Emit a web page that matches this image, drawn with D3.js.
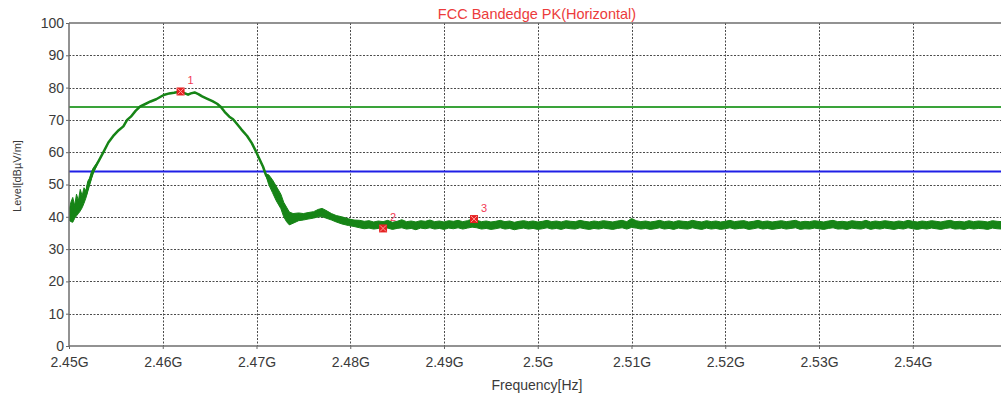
<!DOCTYPE html>
<html>
<head>
<meta charset="utf-8">
<script src="https://cdn.jsdelivr.net/npm/d3@7"></script>
<style>
  body { margin: 0; background: #fff; }
  svg { display: block; }
</style>
</head>
<body>
<svg id="chart" width="1001" height="397"></svg>
<script>
// Axis ticks
const xTickMHz = [2450, 2460, 2470, 2480, 2490, 2500, 2510, 2520, 2530, 2540];
const xTickLabels = ["2.45G", "2.46G", "2.47G", "2.48G", "2.49G", "2.5G", "2.51G", "2.52G", "2.53G", "2.54G"];
const yTicks = [0, 10, 20, 30, 40, 50, 60, 70, 80, 90, 100];

// Limit lines (dBµV/m)
const peakLimit = 74;
const avgLimit = 54;

// Trace around the carrier: frequency (MHz), upper and lower envelope (dBµV/m)
const shapeMHz = [2450.0, 2450.2, 2450.4, 2450.6, 2450.8, 2451.0, 2451.2, 2451.4, 2451.6, 2451.8,
  2452.0, 2452.2, 2452.4, 2452.6, 2453.2, 2453.7, 2454.2, 2454.8, 2455.3, 2455.8,
  2456.2, 2456.6, 2457.1, 2457.6, 2458.2, 2458.7, 2459.3, 2460.1, 2460.7, 2461.2,
  2461.9, 2462.3, 2462.7, 2463.0, 2463.4, 2463.8, 2464.2, 2464.7, 2465.3, 2465.8,
  2466.2, 2466.6, 2467.1, 2467.5, 2467.9, 2468.4, 2469.0, 2469.5, 2469.9, 2470.2,
  2470.7, 2471.0, 2471.3, 2471.7, 2472.1, 2472.6, 2472.9, 2473.2, 2473.5, 2473.9,
  2474.5, 2475.0, 2475.5, 2476.1, 2476.6, 2477.0, 2477.4, 2478.0, 2478.5, 2479.1,
  2479.8, 2480.4];
const shapeHi = [42.0, 44.5, 46.0, 43.5, 47.0, 45.0, 48.5, 46.5, 49.0, 48.0,
  51.0, 52.0, 54.0, 55.2, 57.5, 60.2, 63.0, 65.3, 66.8, 68.0,
  70.0, 71.0, 72.8, 74.2, 75.0, 75.7, 76.4, 77.7, 78.2, 78.4,
  78.8, 78.3, 77.8, 78.2, 78.5, 78.0, 77.3, 76.6, 75.8, 75.0,
  74.0, 72.5, 71.0, 70.2, 68.8, 67.0, 65.0, 62.8, 60.5, 58.6,
  55.5, 53.2, 53.0, 51.5, 49.5, 47.0, 44.5, 43.0, 41.5, 41.0,
  41.2, 41.0, 41.3, 41.6, 42.3, 42.6, 42.0, 41.0, 40.4, 40.0,
  39.4, 39.0];
const shapeLo = [39.0, 38.5, 38.3, 39.5, 40.3, 41.0, 41.8, 42.8, 44.2, 45.8,
  47.8, 49.8, 51.8, 53.5, 57.5, 60.2, 63.0, 65.3, 66.8, 68.0,
  70.0, 71.0, 72.8, 74.2, 75.0, 75.7, 76.4, 77.7, 78.2, 78.4,
  78.8, 78.3, 77.8, 78.2, 78.5, 78.0, 77.3, 76.6, 75.8, 75.0,
  74.0, 72.5, 71.0, 70.2, 68.8, 67.0, 65.0, 62.8, 60.5, 58.6,
  55.5, 52.8, 50.0, 47.5, 45.0, 42.5, 40.0, 38.5, 37.5, 38.0,
  38.8, 39.0, 39.3, 39.6, 40.0, 40.0, 39.6, 39.0, 38.4, 37.8,
  37.3, 37.0];

// Noise floor sweep: 0.5 MHz bins from 2481 MHz, upper and lower envelope
const floorStartMHz = 2481;
const floorStepMHz = 0.5;
const floorHi = [38.9, 38.6, 38.8, 38.4, 38.7, 38.5, 38.9, 38.3, 38.6, 39.1,
  38.5, 38.7, 38.4, 38.8, 38.6, 39.0, 38.5, 38.7, 38.4, 38.8,
  38.6, 38.9, 38.5, 38.8, 39.3, 38.9, 38.5, 38.7, 38.4, 38.6,
  38.9, 38.5, 38.7, 38.3, 38.6, 38.8, 38.5, 38.7, 38.4, 38.6,
  38.9, 38.5, 38.7, 38.4, 38.8, 38.6, 38.5, 38.9, 38.6, 38.4,
  38.7, 38.5, 38.8, 38.6, 38.4, 38.7, 38.9, 38.5, 39.5, 38.8,
  38.5, 38.7, 38.4, 38.6, 38.9, 38.5, 38.7, 38.4, 38.8, 38.6,
  38.5, 38.9, 38.6, 38.4, 38.8, 38.5, 38.7, 38.4, 38.6, 38.9,
  38.5, 38.7, 38.8, 38.4, 38.6, 38.9, 38.5, 38.7, 38.4, 38.6,
  38.8, 38.5, 38.7, 38.9, 38.4, 38.6, 38.5, 38.8, 38.6, 38.4,
  38.7, 38.9, 38.5, 38.6, 38.4, 38.8, 38.6, 38.5, 38.9, 38.4,
  38.7, 38.5, 38.8, 38.6, 38.4, 38.7, 38.5, 38.9, 38.6, 38.4,
  38.7, 38.5, 38.8, 38.6, 38.4, 38.7, 38.9, 38.5, 38.6, 38.4,
  38.8, 38.5, 38.7, 38.6, 38.4, 38.8, 38.6, 38.5, 38.7];
const floorLo = [36.6, 36.3, 36.5, 36.2, 36.4, 36.2, 36.5, 36.1, 36.4, 36.6,
  36.2, 36.4, 36.0, 36.5, 36.3, 36.6, 36.2, 36.4, 36.1, 36.5,
  36.3, 36.6, 36.2, 36.5, 36.8, 36.6, 36.2, 36.4, 36.1, 36.3,
  36.6, 36.2, 36.4, 36.0, 36.3, 36.5, 36.2, 36.4, 36.1, 36.3,
  36.6, 36.2, 36.4, 36.1, 36.5, 36.3, 36.2, 36.6, 36.3, 36.1,
  36.4, 36.2, 36.5, 36.3, 36.1, 36.4, 36.6, 36.2, 36.7, 36.5,
  36.2, 36.4, 36.1, 36.3, 36.6, 36.2, 36.4, 36.1, 36.5, 36.3,
  36.2, 36.6, 36.3, 36.1, 36.5, 36.2, 36.4, 36.1, 36.3, 36.6,
  36.2, 36.4, 36.5, 36.1, 36.3, 36.6, 36.2, 36.4, 36.1, 36.3,
  36.5, 36.2, 36.4, 36.6, 36.1, 36.3, 36.2, 36.5, 36.3, 36.1,
  36.4, 36.6, 36.2, 36.3, 36.1, 36.5, 36.3, 36.2, 36.6, 36.1,
  36.4, 36.2, 36.5, 36.3, 36.1, 36.4, 36.2, 36.6, 36.3, 36.1,
  36.4, 36.2, 36.5, 36.3, 36.1, 36.4, 36.6, 36.2, 36.3, 36.1,
  36.5, 36.2, 36.4, 36.3, 36.1, 36.5, 36.3, 36.2, 36.4];

// Markers
const markerMHz = [2461.9, 2483.5, 2493.2];
const markerLevel = [78.8, 36.4, 39.3];
const markerNames = ["1", "2", "3"];

const W = 1001, H = 397;
const svg = d3.select("#chart");
const font = "'Liberation Sans', Arial, sans-serif";

const x = d3.scaleLinear().domain([2450, 2550]).range([69, 1006.5]);
const y = d3.scaleLinear().domain([0, 100]).range([346, 23]);

// Combined trace records
const trace = shapeMHz.map((f, i) => ({ f, hi: shapeHi[i], lo: shapeLo[i] }))
  .concat(floorHi.map((h, i) => ({ f: floorStartMHz + i * floorStepMHz, hi: h, lo: floorLo[i] })));

// Plot clip
svg.append("defs").append("clipPath").attr("id", "plot")
  .append("rect").attr("x", x(2450)).attr("y", y(100)).attr("width", W - x(2450)).attr("height", y(0) - y(100));

// Dotted grid
const grid = svg.append("g").attr("stroke", "#4a4a4a").attr("stroke-width", 1).attr("stroke-dasharray", "2,1.5");
grid.selectAll("line.v").data(xTickMHz.slice(1)).join("line").attr("class", "v")
  .attr("x1", d => Math.round(x(d)) + 0.5).attr("x2", d => Math.round(x(d)) + 0.5)
  .attr("y1", y(100)).attr("y2", y(0));
grid.selectAll("line.h").data(yTicks.slice(1, -1)).join("line").attr("class", "h")
  .attr("x1", x(2450)).attr("x2", W)
  .attr("y1", d => Math.round(y(d)) + 0.5).attr("y2", d => Math.round(y(d)) + 0.5);

// Limit lines
svg.append("line").attr("x1", x(2450)).attr("x2", W).attr("y1", y(peakLimit)).attr("y2", y(peakLimit))
  .attr("stroke", "#3aa33a").attr("stroke-width", 2);
svg.append("line").attr("x1", x(2450)).attr("x2", W).attr("y1", y(avgLimit)).attr("y2", y(avgLimit))
  .attr("stroke", "#1f1fe6").attr("stroke-width", 2);

// Trace: envelope band plus mid line for the smooth stretches
const traceG = svg.append("g").attr("clip-path", "url(#plot)");
const area = d3.area().x(d => x(d.f)).y0(d => y(d.lo)).y1(d => y(d.hi));
traceG.append("path").datum(trace)
  .attr("d", area).attr("fill", "#168416").attr("stroke", "#168416")
  .attr("stroke-width", 1).attr("stroke-linejoin", "round");
const mid = d3.line().x(d => x(d.f)).y(d => y((d.hi + d.lo) / 2));
traceG.append("path").datum(trace)
  .attr("d", mid).attr("fill", "none").attr("stroke", "#168416")
  .attr("stroke-width", 2.5).attr("stroke-linejoin", "round");

// Markers
const mk = svg.append("g").selectAll("g").data(markerMHz).join("g")
  .attr("transform", (d, i) => `translate(${x(d)},${y(markerLevel[i])})`);
mk.append("rect").attr("x", -4).attr("y", -4).attr("width", 8).attr("height", 8).attr("fill", "#e52222");
mk.append("path").attr("d", "M-3,-3L3,3M3,-3L-3,3").attr("stroke", "#ff9a9a").attr("stroke-width", 1);
mk.append("text").attr("x", 7).attr("y", -7).text((d, i) => markerNames[i])
  .attr("font-family", font).attr("font-size", 11).attr("fill", "#f23a55");

// Axes
const xAxis = d3.axisBottom(x).tickValues(xTickMHz).tickFormat((d, i) => xTickLabels[i])
  .tickSizeInner(3).tickSizeOuter(0).tickPadding(8);
const gx = svg.append("g").attr("transform", `translate(0,${y(0)})`).call(xAxis);
const yAxis = d3.axisLeft(y).tickValues(yTicks).tickSizeInner(3).tickSizeOuter(0).tickPadding(2);
const gy = svg.append("g").attr("transform", `translate(${x(2450)},0)`).call(yAxis);
[gx, gy].forEach(g => {
  g.select(".domain").remove();
  g.selectAll(".tick line").attr("stroke", "#666");
  g.selectAll(".tick text").attr("font-family", font).attr("font-size", 14).attr("fill", "#3a3a3a");
});

// Frame
const frame = svg.append("g").attr("stroke", "#6e6e6e").attr("stroke-width", 1.5).attr("fill", "none");
frame.append("line").attr("x1", x(2450)).attr("x2", W).attr("y1", y(100)).attr("y2", y(100));
frame.append("line").attr("x1", x(2450)).attr("x2", W).attr("y1", y(0)).attr("y2", y(0));
frame.append("line").attr("x1", x(2450)).attr("x2", x(2450)).attr("y1", y(100)).attr("y2", y(0));

// Titles
svg.append("text").attr("x", 537).attr("y", 19).attr("text-anchor", "middle")
  .attr("font-family", font).attr("font-size", 14.5).attr("fill", "#ec3b3b")
  .text("FCC Bandedge PK(Horizontal)");
svg.append("text").attr("x", 537).attr("y", 390).attr("text-anchor", "middle")
  .attr("font-family", font).attr("font-size", 14).attr("fill", "#3a3a3a")
  .text("Frequency[Hz]");
svg.append("text").attr("transform", "translate(21,176) rotate(-90)").attr("text-anchor", "middle")
  .attr("font-family", font).attr("font-size", 11).attr("fill", "#3a3a3a")
  .text("Level[dBµV/m]");
</script>
</body>
</html>
